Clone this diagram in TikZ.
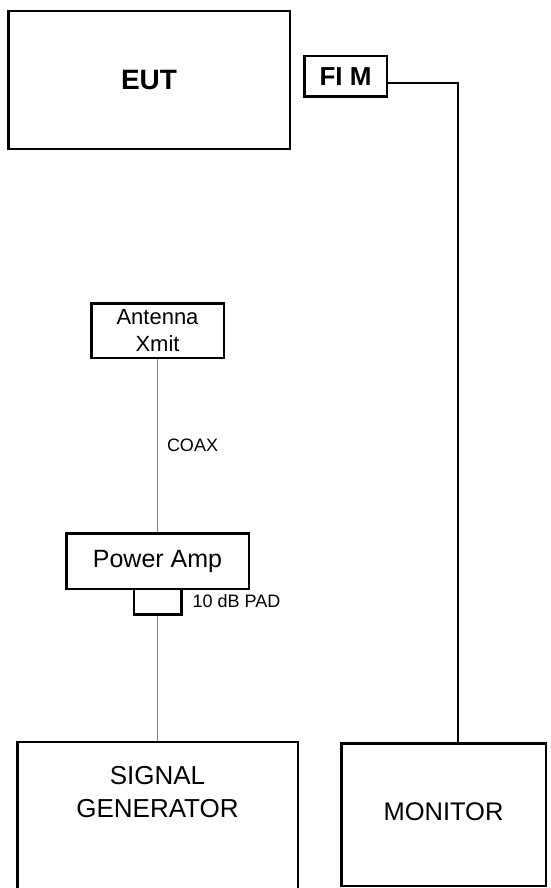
\documentclass[tikz,border=0pt]{standalone}
\usepackage{fontspec}
\setmainfont{Liberation Sans}
\usetikzlibrary{positioning, calc}

\begin{document}
\begin{tikzpicture}[
  x=1pt, y=1pt,
  node distance=10pt and 10pt,
  equip/.style={draw=black, line width=2.5pt, rectangle, inner sep=0pt, align=center},
  big/.style={font=\fontsize{26}{33}\selectfont},
  mid/.style={font=\fontsize{22}{27}\selectfont},
  lbl/.style={font=\fontsize{18}{22}\selectfont, inner sep=0pt},
  coax/.style={draw=gray, line width=1pt},
  wire/.style={draw=black, line width=1.4pt}
]
\useasboundingbox (0,0) rectangle (550,-888);

% Top row: EUT and field intensity meter
\node[equip, font=\fontsize{28}{33}\selectfont, minimum width=281.5pt, minimum height=137.5pt] (eut) at (149,-80) {\bfseries EUT};
\node[equip, big, minimum width=82.5pt, minimum height=40.5pt] (fim) at (345.5,-76.5) {\bfseries FI M};

% Left column: transmit chain
\node[equip, mid, minimum width=132.5pt, minimum height=54.5pt] (ant) at (157.5,-330.5) {Antenna\\Xmit};
\node[equip, font=\fontsize{25}{30}\selectfont, minimum width=182.5pt, minimum height=55.5pt, below=173pt of ant] (pa) {Power Amp};
\node[equip, minimum width=47.5pt, minimum height=25.5pt, below=-2.5pt of pa] (pad) {};
\node[lbl, right=10pt of pad] (padlbl) {10 dB PAD};
\node[equip, minimum width=280.5pt, minimum height=160pt, below=125pt of pad, anchor=north] (sg) {};
\node[big, align=center, inner sep=0pt] (sglbl) at ($(sg.north)+(0,-51.5)$) {SIGNAL\\GENERATOR};

% Bottom right: monitor
\node[equip, font=\fontsize{25.5}{30}\selectfont, minimum width=204.5pt, minimum height=142.5pt] (mon) at (443.5,-814.5) {\raisebox{6pt}{MONITOR}};

\draw[coax] (ant) -- node[lbl, right=9pt] (coaxlbl) {COAX} (pa);
\draw[coax] (pad.south) -- (pad.south |- sg.north);
\draw[wire] ([yshift=-6.5pt]fim.east) -| ([xshift=14.5pt]mon.north);

\end{tikzpicture}
\end{document}
